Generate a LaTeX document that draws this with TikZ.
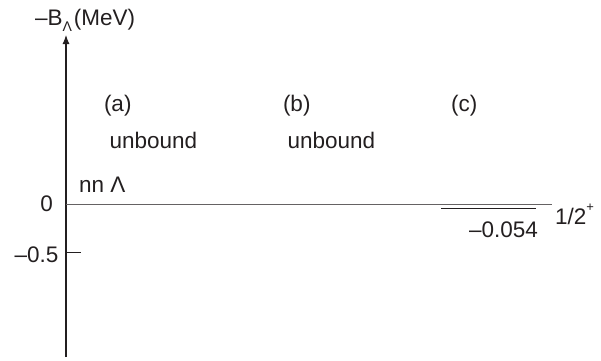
\documentclass[tikz,border=0pt]{standalone}
\usepackage{fontspec}
\setmainfont{Liberation Sans}
\usetikzlibrary{arrows.meta}
\definecolor{ink}{HTML}{231F20}
\begin{document}
\begin{tikzpicture}[x=1pt,y=-1pt,
  lbl/.style={inner sep=0pt,outer sep=0pt,text=ink,font=\fontsize{22.5}{26}\selectfont},
  axisline/.style={draw=ink,line width=1.1pt},
  tickline/.style={draw=ink,line width=0.9pt},
  zeroline/.style={draw=ink!70,line width=1.3pt},
  levelline/.style={draw=ink,line width=1.2pt}]
\useasboundingbox (0,0) rectangle (601,360);
% axis
\coordinate (axb) at (66,357);
\coordinate (axt) at (66,35);
\draw[axisline,-{Latex[length=9pt,width=7pt]}] (axb) -- (axt);
% zero line
\coordinate (z0) at (66,204.5);
\coordinate (z1) at (552,204.5);
\draw[zeroline] (z0) -- (z1);
% tick -0.5
\coordinate (t0) at (66,252);
\coordinate (t1) at (81,252);
\draw[tickline] (t0) -- (t1);
% level line
\coordinate (l0) at (441,208.5);
\coordinate (l1) at (536,208.5);
\draw[levelline] (l0) -- (l1);
% labels
\node[lbl,anchor=base west] (title) at (35,25) {–B\raisebox{-0.28em}{\fontsize{14}{14}\selectfont Λ}\kern2pt(MeV)};
\node[lbl,anchor=base east] (zero) at (53,211) {0};
\node[lbl,anchor=base east] (mhalf) at (58.5,262) {–0.5};
\node[lbl,anchor=base west] (nnl) at (79,192) {nn Λ};
\node[lbl,anchor=base west] (a) at (104,111) {(a)};
\node[lbl,anchor=base west] (b) at (283,111) {(b)};
\node[lbl,anchor=base west] (c) at (451,111) {(c)};
\node[lbl,anchor=base west] (ua) at (109.5,148) {unbound};
\node[lbl,anchor=base west] (ub) at (287.5,148) {unbound};
\node[lbl,anchor=base east] (val) at (538,237) {–0.054};
\node[lbl,anchor=base west] (spin) at (555,224) {1/2\raisebox{0.55em}{\fontsize{13}{13}\selectfont +}};
\end{tikzpicture}
\end{document}
